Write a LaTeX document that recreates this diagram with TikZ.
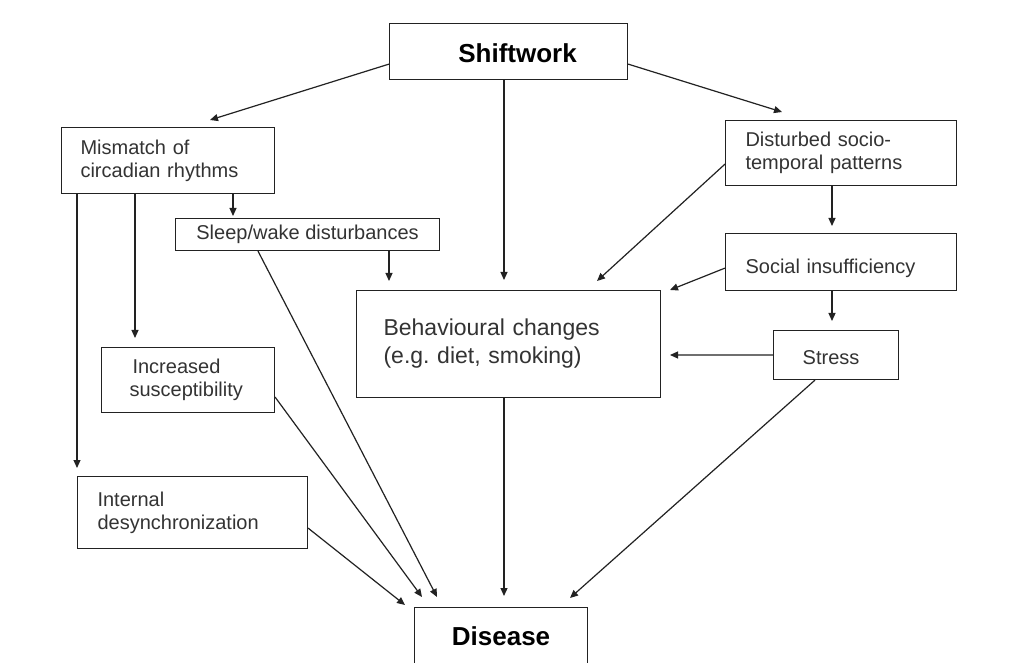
\documentclass[tikz,border=0pt]{standalone}
\usepackage{fontspec}
\setmainfont{Liberation Sans}
\usetikzlibrary{arrows.meta,calc}
\definecolor{linec}{HTML}{222222}
\definecolor{txtc}{HTML}{333333}
\frenchspacing
\newcommand{\lowerby}[2]{\raisebox{-#1}[\height][\depth]{#2}}
\begin{document}
\begin{tikzpicture}[x=1pt,y=-1pt,
  box/.style={draw=linec, line width=1.1pt, anchor=north west, inner ysep=0pt,
    text=txtc, font=\fontsize{20}{23}\selectfont},
  lbox/.style n args={3}{box, text width=#1-2*#3, inner xsep=#3,
    minimum height=#2, align=left},
  cbox/.style n args={2}{box, minimum width=#1, minimum height=#2, inner xsep=0pt},
  arr/.style={draw=linec, line width=1.2pt, -{Triangle[length=8pt,width=7pt]}}
]
\useasboundingbox (0,0) rectangle (1029,663);
\clip (0,0) rectangle (1029,663);
\fill[white] (0,0) rectangle (1029,663);

% boxes
\node[cbox={238}{56}, font=\fontsize{26}{30}\bfseries, text=black] (shift) at (389,23) {\hspace*{18pt}\lowerby{2pt}{Shiftwork}};
\node[lbox={213}{66}{19}] (mis) at (61,127) {Mismatch of\\circadian rhythms};
\node[cbox={264}{32}] (sleep) at (175,218) {Sleep/wake disturbances};
\node[lbox={304}{107}{27}, font=\fontsize{23}{28}\selectfont] (beh) at (356,290) {Behavioural changes\\(e.g. diet, smoking)};
\node[lbox={231}{65}{20}] (dist) at (725,120) {Disturbed socio-\\temporal patterns};
\node[lbox={231}{57}{20}] (soc) at (725,233) {\lowerby{6pt}{Social insufficiency}};
\node[cbox={125}{49}] (stress) at (773,330) {\lowerby{3pt}{Stress}\hspace*{10pt}};
\node[lbox={173}{65}{28}] (inc) at (101,347) {\hspace*{3pt}Increased\\susceptibility};
\node[lbox={230}{72}{20}] (int) at (77,476) {Internal\\desynchronization};
\node[cbox={173}{58}, font=\fontsize{26}{30}\bfseries, text=black] (dis) at (414,607) {Disease};

% arrow tips (free ends)
\coordinate (tMis) at (210,120);
\coordinate (tDist) at (782,112);
\coordinate (tBehA) at (504,280);
\coordinate (tSleep) at (233,216);
\coordinate (tInc) at (135,338);
\coordinate (tInt) at (77,468);
\coordinate (tBehB) at (389,281);
\coordinate (tDisA) at (437,597);
\coordinate (tDisB) at (422,597);
\coordinate (tDisC) at (405,605);
\coordinate (tDisD) at (504,596);
\coordinate (tBehC) at (597,281);
\coordinate (tSoc) at (832,226);
\coordinate (tBehD) at (670,290);
\coordinate (tStress) at (832,321);
\coordinate (tBehE) at (670,355);
\coordinate (tDisE) at (570,598);

% connectors
\draw[arr] ($(shift.south west)+(0,-16)$) -- (tMis);
\draw[arr] ($(shift.south east)+(0,-16)$) -- (tDist);
\draw[arr] ($(shift.south west)+(115,0)$) -- (tBehA);
\draw[arr] ($(mis.south west)+(172,0)$) -- (tSleep);
\draw[arr] ($(mis.south west)+(74,0)$) -- (tInc);
\draw[arr] ($(mis.south west)+(16,0)$) -- (tInt);
\draw[arr] ($(sleep.south west)+(214,0)$) -- (tBehB);
\draw[arr] ($(sleep.south west)+(83,0)$) -- (tDisA);
\draw[arr] ($(inc.south east)+(0,-16)$) -- (tDisB);
\draw[arr] ($(int.south east)+(0,-21)$) -- (tDisC);
\draw[arr] ($(beh.south west)+(148,0)$) -- (tDisD);
\draw[arr] ($(dist.south west)+(0,-22)$) -- (tBehC);
\draw[arr] ($(dist.south west)+(107,0)$) -- (tSoc);
\draw[arr] ($(soc.south west)+(0,-23)$) -- (tBehD);
\draw[arr] ($(soc.south west)+(107,0)$) -- (tStress);
\draw[arr] (stress.west) -- (tBehE);
\draw[arr] ($(stress.south west)+(42,0)$) -- (tDisE);
\end{tikzpicture}
\end{document}
